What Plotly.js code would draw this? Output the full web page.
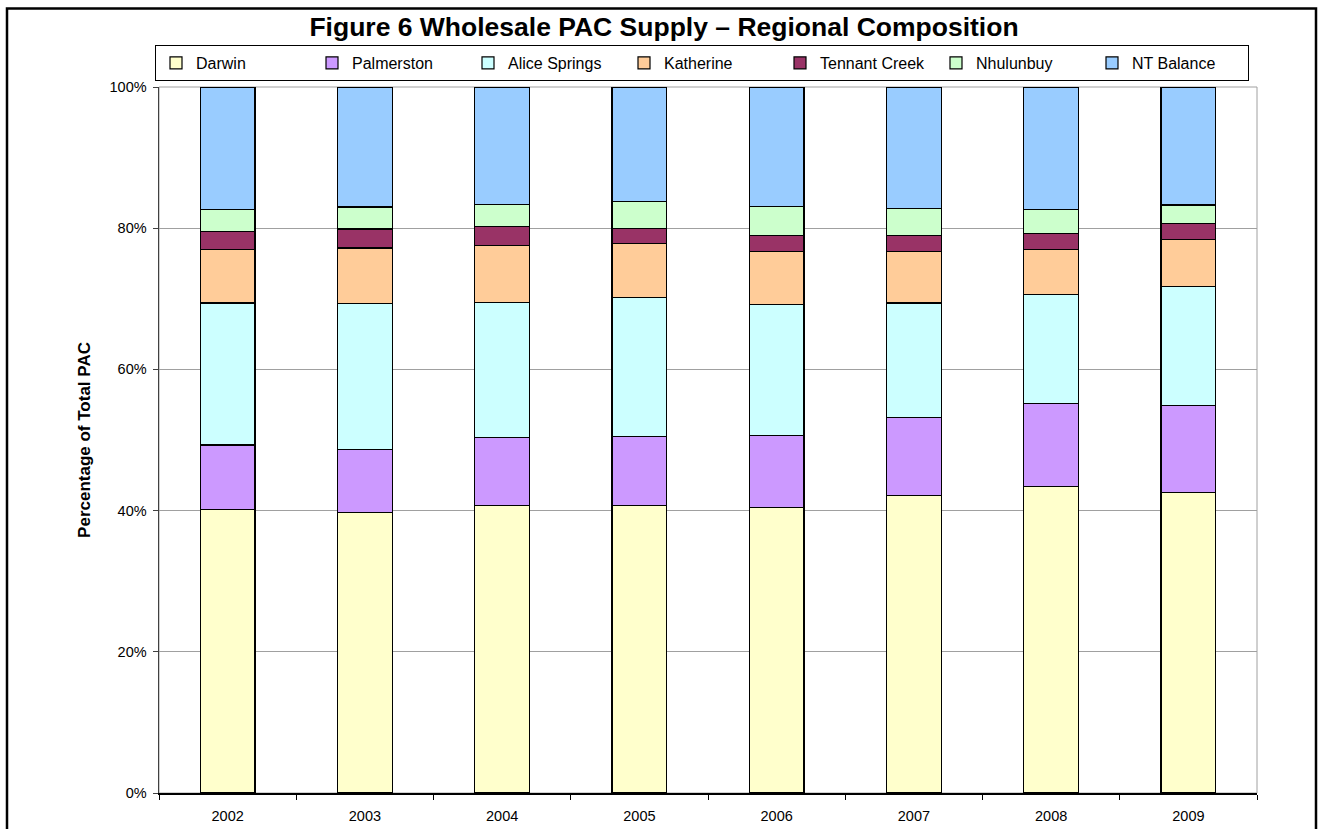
<!DOCTYPE html>
<html>
<head>
<meta charset="utf-8">
<script src="https://cdn.plot.ly/plotly-3.0.1.min.js"></script>
<style>
  html, body { margin: 0; padding: 0; background: #ffffff; }
  #chart { width: 1323px; height: 829px; }
</style>
</head>
<body>
<div id="chart"></div>
<script>
// Category labels (years)
const years = ['2002', '2003', '2004', '2005', '2006', '2007', '2008', '2009'];

// Series values: percentage of total PAC
const darwin      = [40.2, 39.7, 40.7, 40.7, 40.4, 42.1, 43.4, 42.6];
const palmerston  = [ 9.1,  8.9,  9.7,  9.8, 10.2, 11.1, 11.8, 12.3];
const aliceSprings= [20.1, 20.7, 19.1, 19.7, 18.6, 16.2, 15.4, 16.8];
const katherine   = [ 7.6,  7.9,  8.1,  7.6,  7.5,  7.3,  6.4,  6.7];
const tennantCreek= [ 2.5,  2.7,  2.6,  2.2,  2.3,  2.3,  2.3,  2.3];
const nhulunbuy   = [ 3.2,  3.1,  3.2,  3.8,  4.1,  3.8,  3.3,  2.6];
const ntBalance   = [17.3, 17.0, 16.6, 16.2, 16.9, 17.2, 17.4, 16.7];

const seriesNames = ['Darwin', 'Palmerston', 'Alice Springs', 'Katherine', 'Tennant Creek', 'Nhulunbuy', 'NT Balance'];
const seriesValues = [darwin, palmerston, aliceSprings, katherine, tennantCreek, nhulunbuy, ntBalance];
const seriesColors = ['#FFFFCC', '#CC99FF', '#CCFFFF', '#FFCC99', '#993366', '#CCFFCC', '#99CCFF'];

const yTickVals = [0, 20, 40, 60, 80, 100];

const FONT = '"Liberation Sans", Arial, Helvetica, sans-serif';

const traces = seriesNames.map((name, i) => ({
  type: 'bar',
  name: name,
  x: years,
  y: seriesValues[i],
  marker: { color: seriesColors[i], line: { color: '#000000', width: 1.2 } },
  hoverinfo: 'x+y+name'
}));

// plot area in px: left 159, right 1257, top 87, bottom 793
const L = 159, R = 66, T = 87, B = 36;
const W = 1323 - L - R, H = 829 - T - B;
const px2x = p => (p - L) / W;
const py2y = p => (829 - B - p) / H;

const layout = {
  width: 1323,
  height: 829,
  margin: { l: L, r: R, t: T, b: B, pad: 0 },
  paper_bgcolor: '#ffffff',
  plot_bgcolor: '#ffffff',
  font: { family: FONT, color: '#000000', size: 14 },
  barmode: 'stack',
  bargap: 0.6,
  showlegend: true,
  title: {
    text: '<b>Figure 6 Wholesale PAC Supply \u2013 Regional Composition</b>',
    font: { family: FONT, size: 26.5, color: '#000000' },
    x: 664 / 1323, xref: 'container', xanchor: 'center',
    y: (829 - 27) / 829, yref: 'container', yanchor: 'middle'
  },
  legend: {
    orientation: 'h',
    x: px2x(155), xanchor: 'left',
    y: py2y(45), yanchor: 'top',
    bordercolor: '#000000',
    borderwidth: 1,
    bgcolor: '#ffffff',
    font: { family: FONT, size: 16, color: '#000000' },
    traceorder: 'normal',
    entrywidth: 111,
    entrywidthmode: 'pixels'
  },
  xaxis: {
    type: 'category',
    showgrid: false,
    zeroline: false,
    showline: true,
    linecolor: '#000000',
    linewidth: 1.5,
    ticks: 'outside',
    tickson: 'boundaries',
    ticklen: 5,
    tickcolor: '#000000',
    tickfont: { family: FONT, size: 14.5, color: '#000000' },
    ticklabelstandoff: 9,
    fixedrange: true
  },
  yaxis: {
    range: [0, 100],
    tickvals: yTickVals,
    ticktext: yTickVals.map(v => v + '%'),
    showgrid: true,
    gridcolor: '#a0a0a0',
    gridwidth: 1,
    zeroline: false,
    showline: true,
    linecolor: '#404040',
    linewidth: 1.5,
    ticks: 'outside',
    ticklen: 5,
    tickcolor: '#404040',
    tickfont: { family: FONT, size: 14.5, color: '#000000' },
    ticklabelstandoff: 3,
    title: {
      text: '<b>Percentage of Total PAC</b>',
      font: { family: FONT, size: 17, color: '#000000' },
      standoff: 14
    },
    automargin: false,
    fixedrange: true
  },
  shapes: [
    // plot area border (gray)
    { type: 'rect', xref: 'paper', yref: 'paper', x0: 0, x1: 1, y0: 0, y1: 1,
      line: { color: '#a0a0a0', width: 1 }, fillcolor: 'rgba(0,0,0,0)', layer: 'below' },
    // outer chart frame
    { type: 'rect', xref: 'paper', yref: 'paper',
      x0: px2x(7), x1: px2x(1316), y0: py2y(840), y1: py2y(8.5),
      line: { color: '#000000', width: 2.5 }, fillcolor: 'rgba(0,0,0,0)', layer: 'above' }
  ]
};

Plotly.newPlot('chart', traces, layout, { displayModeBar: false, staticPlot: true });
</script>
</body>
</html>
